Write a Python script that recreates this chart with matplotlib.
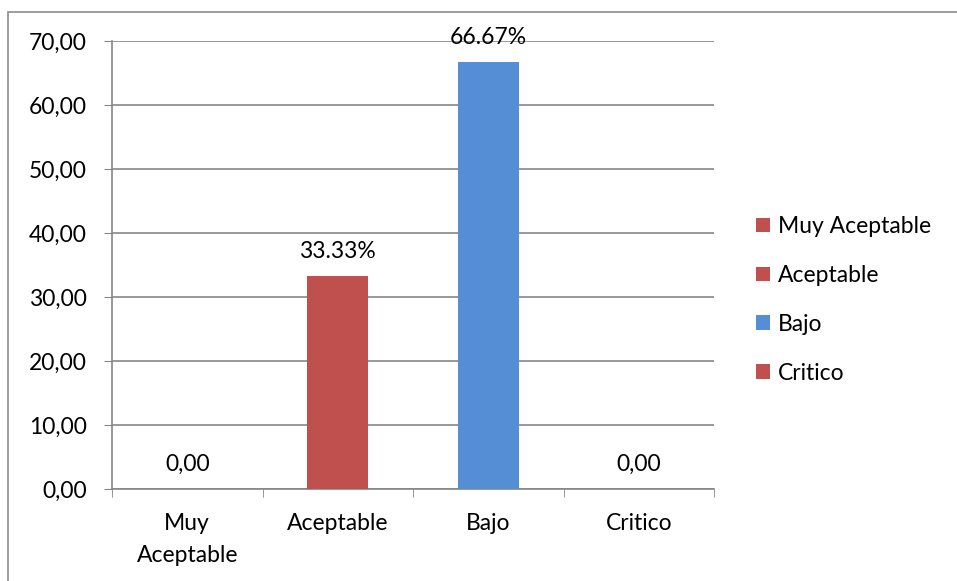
import matplotlib.pyplot as plt
from matplotlib.patches import Patch, Rectangle
import numpy as np

categories = ["Muy\nAceptable", "Aceptable", "Bajo", "Critico"]
legend_names = ["Muy Aceptable", "Aceptable", "Bajo", "Critico"]
values = [0.0, 33.33, 66.67, 0.0]
labels = ["0,00", "33.33%", "66.67%", "0,00"]
colors = ["#C0504D", "#C0504D", "#558ED5", "#C0504D"]

plt.rcParams['font.family'] = ['Lato', 'DejaVu Sans']
fs = 16.5

fig = plt.figure(figsize=(9.57, 5.81), dpi=100)
ax = fig.add_axes([112 / 957, 1 - 489 / 581, 602 / 957, 448 / 581])

# chart frame (left and top edges visible)
fig.patches.append(Rectangle((8 / 957, -0.1), 1.2, 1 - 12 / 581 + 0.1,
                             transform=fig.transFigure, fill=False,
                             edgecolor="#8C8C8C", linewidth=1.2))

x = np.arange(len(categories))
ax.bar(x, values, width=0.405, color=colors, zorder=3)

for xi, v, lab in zip(x, values, labels):
    ax.annotate(lab, (xi, v), xytext=(0, 13), textcoords="offset points",
                ha="center", va="baseline", fontsize=fs, zorder=4)

ax.set_xlim(-0.5, len(categories) - 0.5)
ax.set_ylim(0, 70)
ax.set_yticks(np.arange(0, 71, 10))
ax.set_yticklabels(["%d,00" % v for v in range(0, 71, 10)], fontsize=fs)
ax.set_xticks(x)
ax.set_xticklabels(categories, fontsize=fs, linespacing=1.65)
ax.set_xticks(np.arange(-0.5, len(categories)), minor=True)
ax.tick_params(axis="x", which="major", length=0, pad=17)
ax.tick_params(axis="x", which="minor", length=6, color="#868686")
ax.tick_params(axis="y", length=6, color="#868686", pad=12)

ax.yaxis.grid(True, color="#868686", linewidth=1.2, zorder=0)
for s in ["top", "right"]:
    ax.spines[s].set_visible(False)
for s in ["left", "bottom"]:
    ax.spines[s].set_color("#868686")
    ax.spines[s].set_linewidth(1.2)

handles = [Patch(facecolor=c) for c in colors]
fig.legend(handles, legend_names, loc="center left",
           bbox_to_anchor=(735 / 957, 1 - 300 / 581), frameon=False,
           fontsize=fs, handlelength=0.62, handleheight=0.62,
           handletextpad=0.35, labelspacing=1.22)

fig.savefig("out.png", dpi=100)
